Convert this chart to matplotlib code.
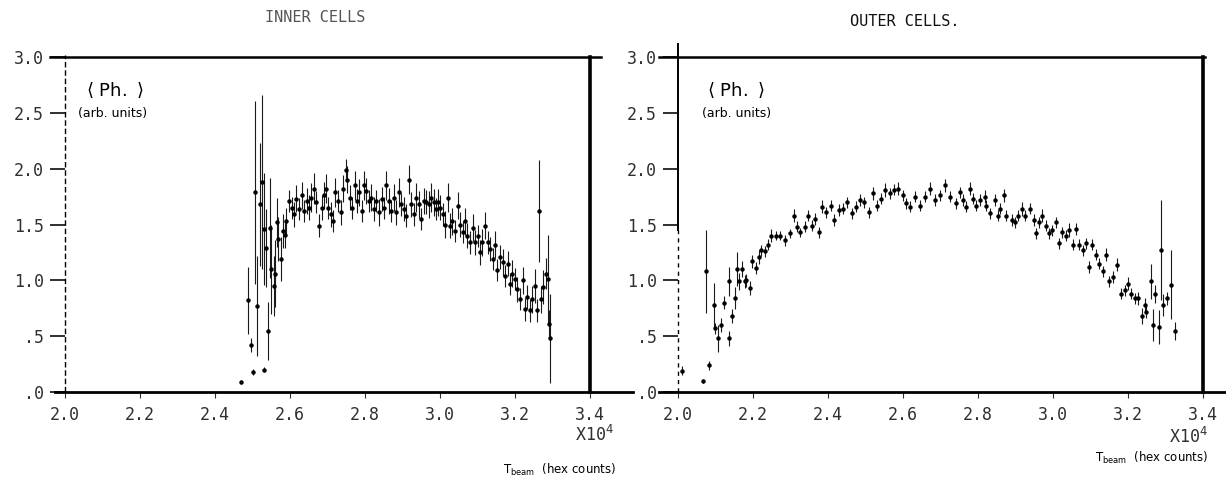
import matplotlib
matplotlib.use("Agg")
import matplotlib.pyplot as plt

# ---------------- data ----------------
inner_x = [2.469, 2.487, 2.495, 2.502, 2.507, 2.513, 2.519, 2.526, 2.531, 2.531,
           2.535, 2.541, 2.546, 2.549, 2.556, 2.559, 2.565, 2.568, 2.575, 2.580,
           2.586, 2.590, 2.597, 2.604, 2.611, 2.617, 2.624, 2.631, 2.637, 2.644,
           2.650, 2.657, 2.664, 2.670, 2.677, 2.684, 2.690, 2.696, 2.702, 2.708,
           2.714, 2.721, 2.727, 2.735, 2.741, 2.748, 2.753, 2.759, 2.766, 2.772,
           2.779, 2.785, 2.791, 2.797, 2.803, 2.810, 2.816, 2.823, 2.830, 2.837,
           2.844, 2.850, 2.856, 2.863, 2.870, 2.877, 2.883, 2.890, 2.896, 2.903,
           2.909, 2.916, 2.922, 2.930, 2.936, 2.943, 2.949, 2.956, 2.962, 2.970,
           2.976, 2.983, 2.989, 2.994, 3.001, 3.007, 3.014, 3.020, 3.027, 3.033,
           3.041, 3.047, 3.054, 3.060, 3.067, 3.073, 3.081, 3.087, 3.094, 3.100,
           3.107, 3.113, 3.120, 3.127, 3.134, 3.140, 3.147, 3.153, 3.160, 3.167,
           3.174, 3.180, 3.187, 3.193, 3.200, 3.206, 3.213, 3.220, 3.227, 3.233,
           3.240, 3.246, 3.253, 3.258, 3.264, 3.269, 3.275, 3.282, 3.287, 3.290,
           3.293]
inner_y = [0.09, 0.82, 0.42, 0.18, 1.79, 0.77, 1.68, 1.88, 1.46, 0.20,
           1.29, 0.55, 1.47, 1.10, 0.95, 1.06, 1.52, 1.37, 1.19, 1.44,
           1.41, 1.53, 1.71, 1.65, 1.59, 1.73, 1.64, 1.76, 1.62, 1.71,
           1.65, 1.74, 1.82, 1.70, 1.49, 1.65, 1.76, 1.82, 1.65, 1.59,
           1.53, 1.79, 1.71, 1.61, 1.82, 1.99, 1.90, 1.74, 1.65, 1.85,
           1.71, 1.79, 1.62, 1.85, 1.80, 1.71, 1.74, 1.64, 1.71, 1.61,
           1.73, 1.65, 1.85, 1.71, 1.62, 1.74, 1.61, 1.79, 1.68, 1.64,
           1.58, 1.90, 1.68, 1.59, 1.74, 1.68, 1.55, 1.71, 1.70, 1.68,
           1.74, 1.70, 1.64, 1.70, 1.65, 1.59, 1.50, 1.74, 1.49, 1.53,
           1.44, 1.67, 1.50, 1.43, 1.53, 1.40, 1.34, 1.47, 1.34, 1.40,
           1.25, 1.34, 1.49, 1.34, 1.28, 1.19, 1.32, 1.09, 1.21, 1.16,
           1.04, 1.15, 0.97, 1.06, 1.01, 0.92, 0.83, 1.00, 0.74, 0.85,
           0.73, 0.83, 0.95, 0.73, 1.62, 0.83, 0.94, 1.06, 1.01, 0.61,
           0.48]
inner_err = [0.02, 0.30, 0.06, 0.03, 0.82, 0.45, 0.55, 0.78, 0.50, 0.02,
             0.35, 0.26, 0.45, 0.40, 0.27, 0.30, 0.22, 0.20, 0.20, 0.15,
             0.12, 0.12, 0.10, 0.10, 0.11, 0.12, 0.10, 0.12, 0.10, 0.12,
             0.11, 0.13, 0.14, 0.10, 0.10, 0.11, 0.12, 0.13, 0.10, 0.11,
             0.10, 0.13, 0.10, 0.11, 0.12, 0.10, 0.12, 0.11, 0.10, 0.13,
             0.11, 0.12, 0.10, 0.13, 0.12, 0.10, 0.12, 0.11, 0.10, 0.12,
             0.11, 0.10, 0.13, 0.12, 0.10, 0.12, 0.11, 0.13, 0.10, 0.11,
             0.10, 0.13, 0.11, 0.10, 0.13, 0.12, 0.10, 0.12, 0.11, 0.12,
             0.13, 0.12, 0.10, 0.12, 0.11, 0.10, 0.12, 0.13, 0.11, 0.12,
             0.10, 0.12, 0.11, 0.10, 0.12, 0.11, 0.10, 0.12, 0.11, 0.10,
             0.11, 0.12, 0.12, 0.10, 0.11, 0.10, 0.12, 0.10, 0.11, 0.12,
             0.10, 0.11, 0.10, 0.12, 0.10, 0.11, 0.10, 0.12, 0.10, 0.11,
             0.10, 0.12, 0.15, 0.10, 0.46, 0.12, 0.15, 0.14, 0.40, 0.12,
             0.40]

outer_x = [2.010, 2.067, 2.076, 2.083, 2.097, 2.100, 2.108, 2.115, 2.124, 2.135,
           2.137, 2.143, 2.151, 2.157, 2.162, 2.171, 2.178, 2.182, 2.191, 2.198,
           2.207, 2.216, 2.222, 2.231, 2.240, 2.249, 2.261, 2.272, 2.285, 2.299,
           2.310, 2.317, 2.326, 2.339, 2.348, 2.357, 2.366, 2.375, 2.384, 2.396,
           2.407, 2.416, 2.429, 2.441, 2.452, 2.465, 2.474, 2.486, 2.497, 2.508,
           2.519, 2.531, 2.542, 2.553, 2.564, 2.576, 2.587, 2.600, 2.609, 2.618,
           2.632, 2.645, 2.659, 2.672, 2.686, 2.699, 2.713, 2.726, 2.740, 2.753,
           2.760, 2.769, 2.778, 2.787, 2.796, 2.806, 2.818, 2.822, 2.833, 2.845,
           2.854, 2.858, 2.869, 2.876, 2.890, 2.899, 2.908, 2.917, 2.926, 2.939,
           2.948, 2.955, 2.962, 2.971, 2.980, 2.989, 2.998, 3.007, 3.016, 3.025,
           3.034, 3.043, 3.052, 3.061, 3.070, 3.079, 3.088, 3.096, 3.105, 3.114,
           3.123, 3.132, 3.141, 3.150, 3.159, 3.171, 3.182, 3.191, 3.200, 3.209,
           3.218, 3.227, 3.236, 3.245, 3.249, 3.261, 3.267, 3.273, 3.283, 3.287,
           3.292, 3.303, 3.314, 3.326]
outer_y = [0.19, 0.10, 1.08, 0.24, 0.78, 0.57, 0.48, 0.60, 0.80, 0.48,
           0.99, 0.68, 0.84, 1.10, 0.99, 1.10, 0.99, 1.00, 0.93, 1.17,
           1.11, 1.21, 1.27, 1.26, 1.32, 1.40, 1.40, 1.40, 1.36, 1.42,
           1.58, 1.48, 1.43, 1.48, 1.58, 1.49, 1.55, 1.43, 1.66, 1.61,
           1.67, 1.54, 1.63, 1.64, 1.70, 1.60, 1.66, 1.72, 1.70, 1.61,
           1.78, 1.67, 1.73, 1.81, 1.78, 1.81, 1.82, 1.76, 1.69, 1.66,
           1.75, 1.67, 1.75, 1.82, 1.72, 1.76, 1.85, 1.75, 1.69, 1.79,
           1.72, 1.66, 1.82, 1.73, 1.67, 1.72, 1.75, 1.67, 1.60, 1.72,
           1.58, 1.64, 1.76, 1.58, 1.54, 1.52, 1.58, 1.64, 1.58, 1.64,
           1.54, 1.42, 1.52, 1.58, 1.49, 1.42, 1.45, 1.52, 1.33, 1.43,
           1.40, 1.45, 1.32, 1.46, 1.32, 1.27, 1.33, 1.12, 1.32, 1.23,
           1.15, 1.08, 1.23, 0.99, 1.03, 1.14, 0.88, 0.91, 0.97, 0.88,
           0.84, 0.84, 0.68, 0.78, 0.72, 0.99, 0.60, 0.88, 0.58, 1.27,
           0.78, 0.84, 0.96, 0.55]
outer_err = [0.04, 0.02, 0.37, 0.04, 0.20, 0.05, 0.12, 0.06, 0.06, 0.07,
             0.13, 0.06, 0.10, 0.15, 0.08, 0.07, 0.06, 0.06, 0.06, 0.06,
             0.05, 0.06, 0.05, 0.05, 0.05, 0.06, 0.04, 0.04, 0.05, 0.04,
             0.06, 0.05, 0.04, 0.05, 0.05, 0.05, 0.05, 0.05, 0.06, 0.05,
             0.05, 0.05, 0.05, 0.05, 0.05, 0.05, 0.05, 0.05, 0.05, 0.05,
             0.06, 0.05, 0.05, 0.06, 0.05, 0.05, 0.06, 0.05, 0.05, 0.05,
             0.05, 0.05, 0.05, 0.06, 0.05, 0.05, 0.06, 0.05, 0.05, 0.05,
             0.05, 0.05, 0.06, 0.05, 0.05, 0.05, 0.06, 0.05, 0.05, 0.05,
             0.05, 0.05, 0.06, 0.05, 0.05, 0.05, 0.05, 0.06, 0.05, 0.05,
             0.05, 0.05, 0.05, 0.06, 0.05, 0.05, 0.05, 0.05, 0.05, 0.05,
             0.05, 0.06, 0.05, 0.05, 0.05, 0.05, 0.05, 0.05, 0.05, 0.05,
             0.05, 0.05, 0.06, 0.05, 0.05, 0.06, 0.05, 0.05, 0.06, 0.05,
             0.05, 0.06, 0.07, 0.06, 0.06, 0.16, 0.14, 0.08, 0.15, 0.45,
             0.10, 0.06, 0.31, 0.08]

x_ticks = [2.0, 2.2, 2.4, 2.6, 2.8, 3.0, 3.2, 3.4]
x_labels = ["2.0", "2.2", "2.4", "2.6", "2.8", "3.0", "3.2", "3.4"]
y_ticks = [0.0, 0.5, 1.0, 1.5, 2.0, 2.5, 3.0]
y_labels = [".0", ".5", "1.0", "1.5", "2.0", "2.5", "3.0"]
titles = ["INNER CELLS", "OUTER CELLS."]

# ---------------- figure ----------------
W, H = 1226, 483
fig = plt.figure(figsize=(W / 100, H / 100), dpi=100)
fig.patch.set_facecolor("white")

mono = "DejaVu Sans Mono"
tcol = "#303030"


def px(x0, y0, x1, y1):
    return [x0 / W, 1 - y1 / H, (x1 - x0) / W, (y1 - y0) / H]


ax_l = fig.add_axes(px(65, 57, 590, 392))
ax_r = fig.add_axes(px(678, 57, 1203, 392))

for ax, xs, ys, es, left_dashed, top_ext, bot_ext in [
    (ax_l, inner_x, inner_y, inner_err, True, (1.96, 3.43), (1.973, 3.515)),
    (ax_r, outer_x, outer_y, outer_err, False, (1.95, 3.405), (1.95, 3.47)),
]:
    ax.set_xlim(2.0, 3.4)
    ax.set_ylim(0.0, 3.0)
    for s in ax.spines.values():
        s.set_visible(False)
    ax.set_facecolor("none")

    ax.errorbar(xs, ys, yerr=es, fmt="o", ms=2.2, color="black",
                ecolor="#1a1a1a", elinewidth=0.8, capsize=0, zorder=3)

    # frame lines (drawn as in the plotter output)
    ax.plot(top_ext, [3.0, 3.0], color="black", lw=1.8, clip_on=False)
    ax.plot(bot_ext, [0.0, 0.0], color="black", lw=2.0, clip_on=False)
    ax.plot([3.4, 3.4], [0.0, 3.0], color="black", lw=2.6, clip_on=False)
    if left_dashed:
        ax.plot([2.0, 2.0], [0.0, 3.02], color="black", lw=1.0,
                ls=(0, (4, 2)), clip_on=False)
    else:
        ax.plot([2.0, 2.0], [1.45, 3.12], color="black", lw=1.4, clip_on=False)
        ax.plot([2.0, 2.0], [0.0, 1.45], color="black", lw=1.0,
                ls=(0, (3, 3)), clip_on=False)

    ax.set_xticks(x_ticks)
    ax.set_xticklabels(x_labels)
    ax.set_yticks(y_ticks)
    ax.set_yticklabels(y_labels)
    ax.tick_params(axis="x", direction="out", length=4, width=0.8,
                   pad=6, labelsize=12, colors=tcol)
    ax.tick_params(axis="y", direction="out", length=11, width=1.4,
                   pad=4, labelsize=12, colors=tcol)
    for lab in ax.get_xticklabels() + ax.get_yticklabels():
        lab.set_fontfamily(mono)

# titles
fig.text(315 / W, 1 - 18 / H, titles[0], ha="center", va="center",
         fontsize=11, family=mono, color="#555555")
fig.text(905 / W, 1 - 22 / H, titles[1], ha="center", va="center",
         fontsize=11, family=mono, color="#111111")

# x10^4 multipliers
for xc, yc in [(594, 435), (1188, 437)]:
    fig.text(xc / W, 1 - yc / H, r"X10$^{4}$", ha="center", va="center",
             fontsize=12, family=mono, color=tcol)

# handwritten-style labels
for (x1, y1, x2, y2) in [(115, 90, 113, 113), (736, 90, 737, 113)]:
    fig.text(x1 / W, 1 - y1 / H, r"$\left\langle\ \mathrm{Ph.}\ \right\rangle$",
             ha="center", va="center", fontsize=13, color="black")
    fig.text(x2 / W, 1 - y2 / H, "(arb. units)", ha="center", va="center",
             fontsize=9, family="DejaVu Sans", color="black")

for xc, yc in [(560, 470), (1152, 458)]:
    fig.text(xc / W, 1 - yc / H, r"T$_{\rm beam}$  (hex counts)", ha="center",
             va="center", fontsize=8.5, family="DejaVu Sans", color="black")

fig.savefig("out.png", dpi=100, facecolor="white")
